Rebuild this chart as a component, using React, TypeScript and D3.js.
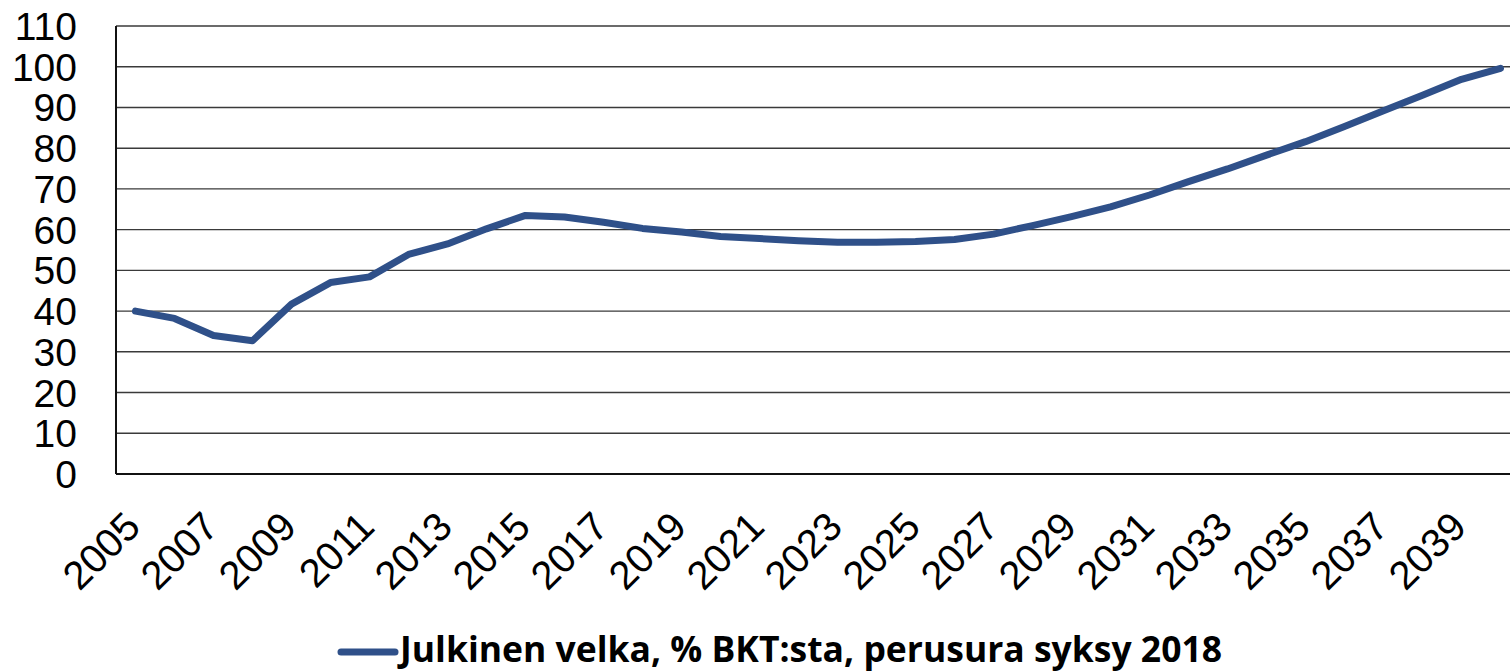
import React from "react";
import * as d3 from "d3";

const years: number[] = [
  2005, 2006, 2007, 2008, 2009, 2010, 2011, 2012, 2013, 2014, 2015, 2016,
  2017, 2018, 2019, 2020, 2021, 2022, 2023, 2024, 2025, 2026, 2027, 2028,
  2029, 2030, 2031, 2032, 2033, 2034, 2035, 2036, 2037, 2038, 2039, 2040,
];
const debt: number[] = [
  40.0, 38.2, 34.0, 32.7, 41.7, 47.0, 48.4, 53.9, 56.5, 60.2, 63.5, 63.1,
  61.8, 60.3, 59.4, 58.3, 57.8, 57.3, 56.9, 56.9, 57.1, 57.6, 58.9, 61.0,
  63.2, 65.6, 68.5, 71.8, 74.9, 78.3, 81.6, 85.3, 89.2, 93.0, 96.9, 99.6,
];
const yTicks: number[] = [0, 10, 20, 30, 40, 50, 60, 70, 80, 90, 100, 110];
const xTickLabels: number[] = years.filter((_, i) => i % 2 === 0 && years[i] <= 2039);
const seriesName = "Julkinen velka, % BKT:sta, perusura syksy 2018";

export default function App() {
  const W = 1510;
  const H = 671;
  const left = 116;
  const right = 1520;
  const top = 26;
  const bottom = 474;
  const lineColor = "#2F5089";

  const x = d3
    .scaleBand<number>()
    .domain(years)
    .range([left, right])
    .paddingInner(0)
    .paddingOuter(0);
  const cx = (yr: number) => (x(yr) as number) + x.bandwidth() / 2;
  const y = d3.scaleLinear().domain([0, 110]).range([bottom, top]);

  const line = d3
    .line<number>()
    .x((_, i) => cx(years[i]))
    .y((d) => y(d))
    .curve(d3.curveLinear);

  const axisFont = "'Liberation Sans', Arial, sans-serif";

  return (
    <svg
      width={W}
      height={H}
      style={{ position: "absolute", left: 0, top: 0, background: "#fff" }}
    >
      <rect x={0} y={0} width={W} height={H} fill="#fff" />
      {yTicks
        .filter((t) => t > 0)
        .map((t) => (
          <line
            key={"g" + t}
            x1={left}
            x2={right}
            y1={y(t)}
            y2={y(t)}
            stroke="#3a3a3a"
            strokeWidth={1.4}
          />
        ))}
      <line x1={left} x2={left} y1={top} y2={bottom} stroke="#111" strokeWidth={2} />
      <line x1={left} x2={right} y1={bottom} y2={bottom} stroke="#111" strokeWidth={2.2} />
      {yTicks.map((t) => (
        <text
          key={"yl" + t}
          x={77}
          y={y(t) + 14}
          textAnchor="end"
          fontFamily={axisFont}
          fontSize={39}
          fill="#000"
        >
          {t}
        </text>
      ))}
      {xTickLabels.map((yr) => (
        <text
          key={"xl" + yr}
          transform={`translate(${cx(yr) + 7},${529}) rotate(-45)`}
          textAnchor="end"
          fontFamily={axisFont}
          fontSize={40}
          fill="#000"
        >
          {yr}
        </text>
      ))}
      <path
        d={line(debt) || ""}
        fill="none"
        stroke={lineColor}
        strokeWidth={7}
        strokeLinejoin="round"
        strokeLinecap="round"
      />
      <line
        x1={341}
        x2={395}
        y1={652}
        y2={652}
        stroke={lineColor}
        strokeWidth={7}
        strokeLinecap="round"
      />
      <text
        x={400}
        y={662}
        fontFamily="'Open Sans', 'Liberation Sans', sans-serif"
        fontWeight="bold"
        fontSize={35}
        textLength={822}
        lengthAdjust="spacingAndGlyphs"
        fill="#000"
      >
        {seriesName}
      </text>
    </svg>
  );
}
